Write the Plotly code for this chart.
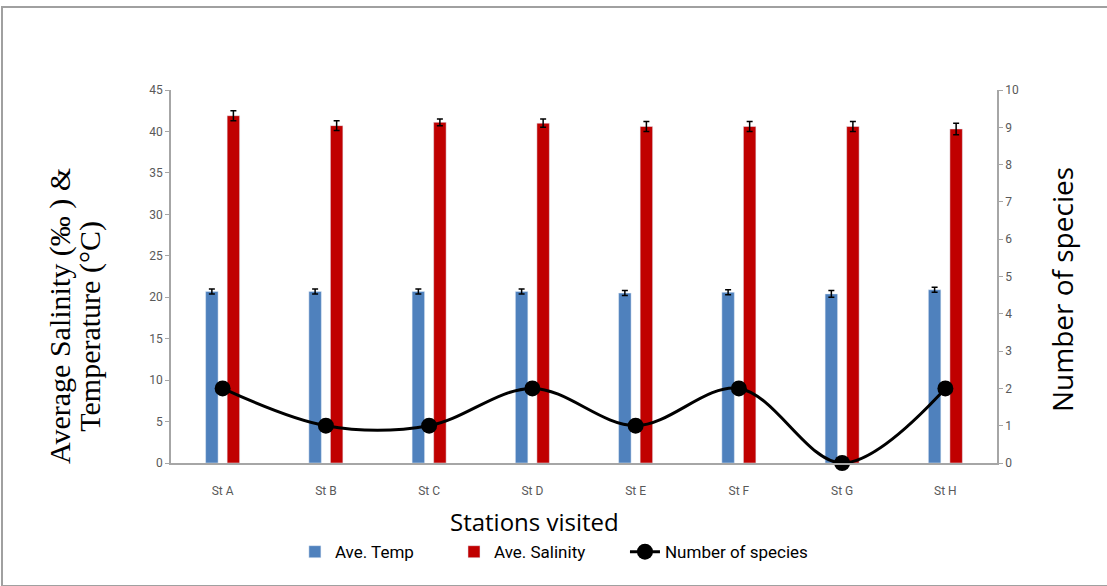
import plotly.graph_objects as go

stations = ["St A", "St B", "St C", "St D", "St E", "St F", "St G", "St H"]
ave_temp = [20.7, 20.7, 20.7, 20.7, 20.5, 20.6, 20.4, 20.9]
temp_err = [0.3, 0.3, 0.3, 0.3, 0.3, 0.3, 0.4, 0.3]
ave_salinity = [41.9, 40.7, 41.1, 41.0, 40.6, 40.6, 40.6, 40.3]
sal_err = [0.6, 0.6, 0.4, 0.5, 0.6, 0.6, 0.6, 0.7]
species = [2, 1, 1, 2, 1, 2, 0, 2]

tick_font = dict(family="Liberation Sans Narrow, Roboto, sans-serif", size=12, color="#595959")
leg_font = dict(family="Liberation Sans Narrow, Roboto, sans-serif", size=17, color="black")
axis_col = "#a6a6a6"

fig = go.Figure()
fig.add_trace(go.Bar(
    x=stations, y=ave_temp, name="Ave. Temp", legend="legend",
    marker=dict(color="#4f81bd"),
    error_y=dict(type="data", array=temp_err, color="black", thickness=1.5, width=3),
))
fig.add_trace(go.Bar(
    x=stations, y=ave_salinity, name="Ave. Salinity", legend="legend2",
    marker=dict(color="#c00000"),
    error_y=dict(type="data", array=sal_err, color="black", thickness=1.5, width=3),
))
fig.add_trace(go.Scatter(
    x=stations, y=species, name="Number of species", yaxis="y2", legend="legend3",
    mode="lines+markers", cliponaxis=False,
    line=dict(color="black", width=3, shape="spline", smoothing=1.0),
    marker=dict(color="black", size=16),
))

leg_common = dict(orientation="h", y=-0.239, yanchor="middle", xanchor="left",
                  font=leg_font, itemwidth=30, bgcolor="rgba(0,0,0,0)")

fig.update_layout(
    width=1107, height=586,
    margin=dict(l=171, r=110, t=90, b=123),
    paper_bgcolor="white", plot_bgcolor="white",
    barmode="group", bargap=0.583, bargroupgap=0.42,
    showlegend=True,
    legend=dict(x=0.15, **leg_common),
    legend2=dict(x=0.3426, **leg_common),
    legend3=dict(x=0.5496, **leg_common),
    xaxis=dict(
        type="category", showline=True, linecolor=axis_col, linewidth=1.5,
        ticks="", tickfont=tick_font, showgrid=False, zeroline=False,
        ticklabelstandoff=16,
    ),
    yaxis=dict(
        range=[0, 45], dtick=5, showline=True, linecolor=axis_col, linewidth=1.5,
        ticks="outside", ticklen=4, tickcolor=axis_col, tickfont=tick_font,
        showgrid=False, zeroline=False,
    ),
    yaxis2=dict(
        range=[0, 10], dtick=1, overlaying="y", side="right",
        showline=True, linecolor=axis_col, linewidth=1.5,
        ticks="outside", ticklen=4, tickcolor=axis_col, tickfont=tick_font,
        showgrid=False, zeroline=False,
    ),
    shapes=[dict(
        type="rect", xref="paper", yref="paper",
        x0=-0.2046, x1=1.135, y0=-0.33, y1=1.2225,
        line=dict(color="#a0a0a0", width=2), fillcolor="rgba(0,0,0,0)", layer="below",
    )],
    annotations=[
        dict(text="Stations visited", xref="paper", yref="paper", x=0.4395, y=-0.158,
             xanchor="center", yanchor="middle", showarrow=False,
             font=dict(family="Open Sans, sans-serif", size=24, color="black")),
        dict(text="Average Salinity (‰ ) &", xref="paper", yref="paper", x=-0.1345, y=0.394,
             xanchor="center", yanchor="middle", textangle=-90, showarrow=False,
             font=dict(family="Liberation Serif, serif", size=30, color="black")),
        dict(text="Temperature (°C)", xref="paper", yref="paper", x=-0.0985, y=0.367,
             xanchor="center", yanchor="middle", textangle=-90, showarrow=False,
             font=dict(family="Liberation Serif, serif", size=30, color="black")),
        dict(text="Number of species", xref="paper", yref="paper", x=1.0787, y=0.4638,
             xanchor="center", yanchor="middle", textangle=-90, showarrow=False,
             font=dict(family="Open Sans, sans-serif", size=28, color="black")),
    ],
)

fig.write_html("out.html")
